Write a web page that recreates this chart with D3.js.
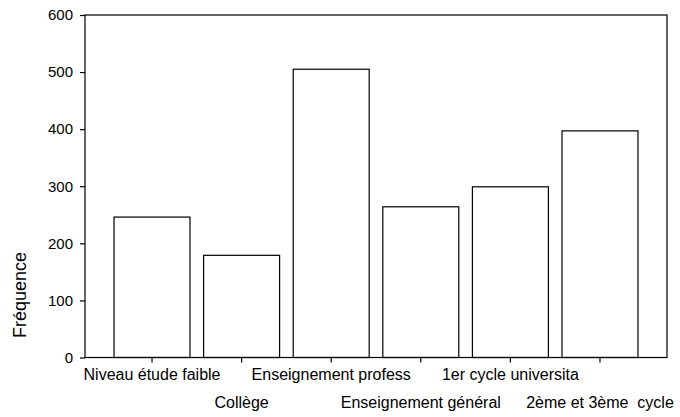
<!DOCTYPE html>
<html>
<head>
<meta charset="utf-8">
<style>
  html, body { margin: 0; padding: 0; background: #fff; }
  svg { display: block; font-family: Arial, 'Liberation Sans', sans-serif; }
</style>
</head>
<body>
<script src="https://d3js.org/d3.v7.min.js"></script>
<script>
  // niveau d'études - fréquences
  var categories = ["Niveau étude faible", "Collège", "Enseignement profess",
                    "Enseignement général", "1er cycle universita", "2ème et 3ème  cycle"];
  var frequencies = [246, 179, 505, 264, 299, 397];
  var yTicks = [0, 100, 200, 300, 400, 500, 600];

  var width = 680, height = 417;
  var plotLeft = 85, plotRight = 667, plotTop = 15, plotBottom = 357.5;

  var svg = d3.select("body").append("svg")
    .attr("width", width)
    .attr("height", height);

  var x = d3.scaleBand()
    .domain(categories)
    .range([plotLeft, plotRight])
    .paddingInner(0.152)
    .paddingOuter(0.324);

  var y = d3.scaleLinear().domain([0, 600]).range([plotBottom, plotTop]);

  // bars
  svg.selectAll("rect.bar")
    .data(frequencies)
    .enter().append("rect")
      .attr("class", "bar")
      .attr("x", function(d, i) { return x(categories[i]); })
      .attr("y", function(d) { return y(d); })
      .attr("width", x.bandwidth())
      .attr("height", function(d) { return y(0) - y(d); })
      .attr("fill", "#fff")
      .attr("stroke", "#000")
      .attr("stroke-width", 1.2);

  // frame
  svg.append("rect")
    .attr("x", plotLeft).attr("y", plotTop)
    .attr("width", plotRight - plotLeft).attr("height", plotBottom - plotTop)
    .attr("fill", "none")
    .attr("stroke", "#000")
    .attr("stroke-width", 1.2);

  // y axis
  var yAxis = svg.append("g")
    .attr("transform", "translate(" + plotLeft + ",0)")
    .call(d3.axisLeft(y).tickValues(yTicks).tickSize(5).tickSizeOuter(0).tickPadding(7));
  yAxis.select(".domain").remove();
  yAxis.selectAll("line").attr("stroke", "#000").attr("stroke-width", 1.2);
  yAxis.selectAll("text")
    .attr("font-size", 15)
    .attr("font-family", "Arial, 'Liberation Sans', sans-serif")
    .attr("fill", "#000");

  // x axis ticks
  var xAxis = svg.append("g")
    .attr("transform", "translate(0," + plotBottom + ")")
    .call(d3.axisBottom(x).tickSize(5).tickSizeOuter(0).tickFormat(""));
  xAxis.select(".domain").remove();
  xAxis.selectAll("line").attr("stroke", "#000").attr("stroke-width", 1.2);

  // staggered category labels
  svg.selectAll("text.cat")
    .data(categories)
    .enter().append("text")
      .attr("class", "cat")
      .attr("x", function(d) { return x(d) + x.bandwidth() / 2; })
      .attr("y", function(d, i) { return i % 2 === 0 ? 379.5 : 408; })
      .attr("text-anchor", "middle")
      .attr("font-size", 16)
      .attr("fill", "#000")
      .style("white-space", "pre")
      .text(function(d) { return d; });

  // y title
  svg.append("text")
    .attr("transform", "translate(26,295) rotate(-90)")
    .attr("text-anchor", "middle")
    .attr("font-size", 18)
    .attr("fill", "#000")
    .text("Fréquence");
</script>
</body>
</html>
